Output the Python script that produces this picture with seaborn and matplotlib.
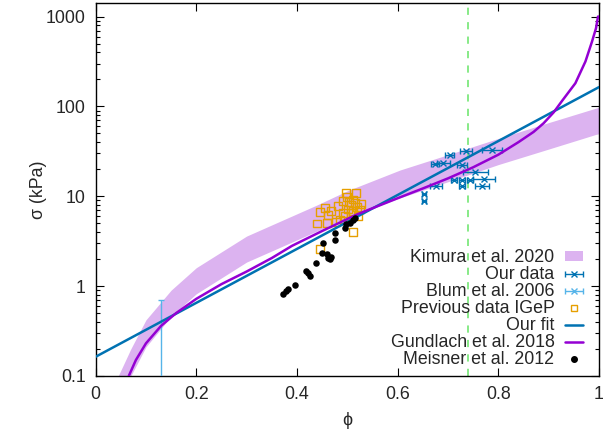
import matplotlib
matplotlib.use("Agg")
import matplotlib.pyplot as plt
import numpy as np
import pandas as pd
import seaborn as sns
from matplotlib.patches import Patch

# ---- data ------------------------------------------------------------------
kimura_phi = [0.045, 0.07, 0.1, 0.15, 0.2, 0.3, 0.44, 0.5, 0.605, 0.7, 0.8,
              0.9, 1.0]
kimura_hi = [0.1, 0.2, 0.42, 0.9, 1.6, 3.6, 8.0, 11.5, 19.6, 29, 44, 66, 98]
kimura_lo = [0.05, 0.1, 0.21, 0.46, 0.82, 1.85, 4.1, 5.8, 9.6, 14.5, 22.5,
             33.5, 50]

our_phi = [0.703, 0.736, 0.787, 0.674, 0.691, 0.727, 0.754, 0.771, 0.711,
           0.727, 0.744, 0.677, 0.727, 0.767, 0.653, 0.653]
our_sigma = [29.0, 32.2, 33.0, 22.9, 23.3, 22.1, 18.6, 15.7, 15.1,
             15.1, 15.3, 12.9, 12.9, 13.1, 10.5, 8.8]
our_phi_err = [0.008, 0.012, 0.02, 0.008, 0.012, 0.01, 0.025, 0.022, 0.006,
               0.006, 0.006, 0.012, 0.006, 0.014, 0.004, 0.004]

blum_phi = [0.13]
blum_sigma = [0.06]
blum_err_lo = [0.0]
blum_err_hi = [0.64]

igep_phi = [0.440, 0.446, 0.456, 0.459, 0.462, 0.478, 0.485, 0.491, 0.500,
            0.503, 0.507, 0.511, 0.515, 0.518, 0.520, 0.501, 0.491, 0.495,
            0.511, 0.525, 0.511, 0.528, 0.445, 0.498, 0.508, 0.468, 0.482, 0.522]
igep_sigma = [4.97, 6.69, 7.41, 5.01, 6.15, 5.18, 5.51, 8.80, 9.75,
              8.64, 7.94, 9.19, 8.43, 10.9, 7.55, 7.11, 6.52, 5.99,
              6.81, 7.11, 4.01, 8.15, 2.56, 10.8, 6.47, 6.8, 7.74, 6.0]

fit_phi = [0.0, 1.0]
fit_sigma = [0.163, 164]

gund_phi = [0.066, 0.08, 0.1, 0.13, 0.16, 0.2, 0.25, 0.3, 0.35, 0.39, 0.45,
            0.52, 0.6, 0.65, 0.7, 0.75, 0.8, 0.84, 0.87, 0.89, 0.91, 0.926,
            0.953, 0.973, 0.986, 0.994, 0.998, 1.0]
gund_sigma = [0.1, 0.15, 0.23, 0.36, 0.5, 0.72, 1.05, 1.45, 2.05, 2.8, 4.1,
              6.3, 9.5, 12.2, 15.8, 21, 29, 40, 52, 65, 86, 114,
              181, 316, 525, 740, 1000, 1000]

meis_phi = [0.372, 0.378, 0.382, 0.397, 0.418, 0.422, 0.425, 0.438, 0.450,
            0.452, 0.460, 0.462, 0.466, 0.468, 0.475, 0.475, 0.495, 0.498,
            0.505, 0.511, 0.515]
meis_sigma = [0.81, 0.88, 0.92, 1.04, 1.47, 1.39, 1.29, 1.82, 2.34,
              3.03, 2.27, 2.06, 1.98, 2.10, 3.22, 3.91, 4.45, 4.85,
              5.05, 5.37, 5.74]

vline_phi = 0.74

C_PURPLE = "#9400D3"
C_BLUE = "#0072B2"
C_LIGHTBLUE = "#56B4E9"
C_ORANGE = "#E69F00"
C_BAND = "#dcb3f0"
C_GREEN = "#7ee87e"
FS = 12.8
LW = 1.8

sns.set_theme(style="ticks")
plt.rcParams["font.family"] = ["Liberation Sans", "DejaVu Sans"]
plt.rcParams["font.size"] = FS

fig = plt.figure(figsize=(6.09, 4.33), dpi=100)
ax = fig.add_axes([0.157, 0.132, 0.8266, 0.860])

ax.fill_between(kimura_phi, kimura_lo, kimura_hi, color=C_BAND, lw=0,
                zorder=1)
ax.axvline(vline_phi, color=C_GREEN, lw=1.3, ls=(0, (4, 4)), zorder=2)

ebkw = dict(fmt="x", ms=4.5, mew=1.0, elinewidth=1.0, capsize=2.2,
            capthick=1.0)
ax.errorbar(our_phi, our_sigma, xerr=our_phi_err, color=C_BLUE, zorder=4,
            **ebkw)
ax.errorbar(blum_phi, blum_sigma, yerr=[blum_err_lo, blum_err_hi],
            color=C_LIGHTBLUE, zorder=4, **ebkw)

igep = pd.DataFrame({"phi": igep_phi, "sigma": igep_sigma})
sns.scatterplot(data=igep, x="phi", y="sigma", ax=ax, marker="s", s=32,
                facecolor="none", edgecolor=C_ORANGE, linewidth=1.0, zorder=3)

fit = pd.DataFrame({"phi": fit_phi, "sigma": fit_sigma})
sns.lineplot(data=fit, x="phi", y="sigma", ax=ax, color=C_BLUE, lw=LW,
             zorder=5)
gund = pd.DataFrame({"phi": gund_phi, "sigma": gund_sigma})
sns.lineplot(data=gund, x="phi", y="sigma", ax=ax, color=C_PURPLE, lw=LW,
             sort=False, zorder=5)

meis = pd.DataFrame({"phi": meis_phi, "sigma": meis_sigma})
sns.scatterplot(data=meis, x="phi", y="sigma", ax=ax, color="black", s=22,
                linewidth=0, zorder=6)

ax.set_yscale("log")
ax.set_xlim(0, 1)
ax.set_ylim(0.1, 1400)
ax.set_xticks([0, 0.2, 0.4, 0.6, 0.8, 1.0])
ax.set_xticklabels(["0", "0.2", "0.4", "0.6", "0.8", "1"])
ax.set_yticks([0.1, 1, 10, 100, 1000])
ax.set_yticklabels(["0.1", "1", "10", "100", "1000"])
ax.tick_params(which="both", direction="in", top=True, right=True,
               labelsize=FS, color="black", width=0.8)
ax.tick_params(which="major", length=6, pad=7)
ax.tick_params(which="minor", length=3)
ax.tick_params(axis="x", which="minor", bottom=False, top=False)
for s in ax.spines.values():
    s.set_color("black")
    s.set_linewidth(1.0)
ax.set_xlabel("ϕ", fontsize=FS, labelpad=7)
ax.set_ylabel("σ (kPa)", fontsize=FS, labelpad=-1)

# legend (gnuplot style: text right-aligned, sample on the right)
h_kim = Patch(facecolor=C_BAND, edgecolor="none")
h_our = ax.errorbar([np.nan], [np.nan], xerr=[0.01], color=C_BLUE, **ebkw)
h_blum = ax.errorbar([np.nan], [np.nan], xerr=[0.01], color=C_LIGHTBLUE,
                     **ebkw)
h_igep = plt.Line2D([], [], ls="none", marker="s", ms=4, mfc="none",
                    mec=C_ORANGE, mew=1.0)
h_fit = plt.Line2D([], [], color=C_BLUE, lw=LW)
h_gund = plt.Line2D([], [], color=C_PURPLE, lw=LW)
h_meis = plt.Line2D([], [], ls="none", marker="o", ms=4, color="black")
labels = ["Kimura et al. 2020", "Our data", "Blum et al. 2006",
          "Previous data IGeP", "Our fit", "Gundlach et al. 2018",
          "Meisner et al. 2012"]
leg = ax.legend([h_kim, h_our, h_blum, h_igep, h_fit, h_gund, h_meis], labels,
                loc="lower right", bbox_to_anchor=(0.975, 0.011),
                borderaxespad=0, frameon=False, markerfirst=False,
                fontsize=FS, handlelength=1.0, handleheight=0.5,
                labelspacing=0.0, handletextpad=0.6, borderpad=0.2)
for t in leg.get_texts():
    t.set_ha("right")
leg._legend_box.align = "right"

fig.savefig("out.png", dpi=100)
